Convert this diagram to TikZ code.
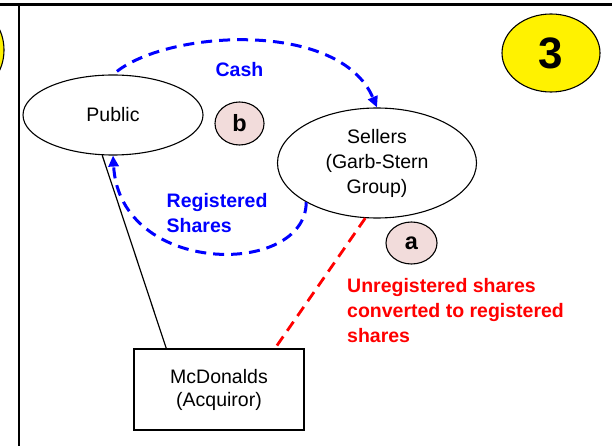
\documentclass[tikz,border=0pt]{standalone}
\usepackage{fontspec}
\setmainfont{Liberation Sans}
\usetikzlibrary{shapes.geometric,arrows.meta,calc}
\definecolor{pinkfill}{RGB}{242,220,219}
\begin{document}
\begin{tikzpicture}[x=1pt,y=-1pt,
  ell/.style={ellipse,draw,line width=1.1pt,inner sep=0pt},
  plaintext/.style={font=\fontsize{19.5}{25}\selectfont,align=center},
  boldtext/.style={font=\bfseries\fontsize{19.5}{25}\selectfont},
  lettertext/.style={font=\bfseries\fontsize{23.5}{25}\selectfont},
  bluedash/.style={draw=blue,line width=3pt,dash pattern=on 11pt off 7pt,-{Triangle[length=11pt,width=10pt]}},
  reddash/.style={draw=red,line width=2.8pt,dash pattern=on 11pt off 7pt},
  link/.style={line width=1.2pt}
]
\useasboundingbox (0,0) rectangle (612,446);
\clip (0,0) rectangle (612,446);
\fill[white] (0,0) rectangle (612,446);

% frame
\draw[line width=2.5pt] (0,4.5) -- (612,4.5);
\draw[line width=2pt] (19,4.5) -- (19,446);

% badges
\node[ell,fill=yellow,minimum width=60pt,minimum height=78pt] (prev) at (-26,50) {};
\node[ell,fill=yellow,minimum width=98pt,minimum height=78pt,font=\bfseries\fontsize{44}{44}\selectfont] (three) at (551,53) {3};

% main nodes
\node[ell,minimum width=180pt,minimum height=80pt,plaintext] (pub) at (113,115) {Public};
\node[ell,minimum width=199pt,minimum height=110pt,plaintext] (sel) at (377,163) {Sellers\\(Garb-Stern\\Group)};
\node[draw,line width=1.2pt,minimum width=170pt,minimum height=81pt,font=\fontsize{19.5}{23}\selectfont,align=center] (box) at (219,389.5) {McDonalds\\(Acquiror)};

\node[ell,fill=pinkfill,minimum width=49pt,minimum height=43pt,lettertext] (b) at (239.5,123.5) {b};
\node[ell,fill=pinkfill,minimum width=51pt,minimum height=42pt,lettertext] (a) at (411.5,243) {a};

% labels
\node[boldtext,text=blue,anchor=base] (cash) at (239.5,76.7) {Cash};
\node[boldtext,text=blue,anchor=base west,align=left,inner xsep=0pt] (reg) at (166.5,232.5) {Registered\\Shares};
\node[boldtext,text=red,anchor=base west,align=left,inner xsep=0pt] (conv) at (347,342) {Unregistered shares\\converted to registered\\shares};

% connectors
\coordinate (bl) at ($(box.north west)!0.192!(box.north east)$);
\coordinate (rc) at ($(box.north west)!0.827!(box.north east)$);
\draw[link] (pub.255) -- (bl);
\draw[reddash] (sel.258) -- (rc);
\draw[bluedash,shorten <=5pt] (pub.north) .. controls (170,30) and (340,20) .. (sel.north);
\draw[bluedash] (sel.209) .. controls (306,277) and (120,277) .. (pub.south);
\end{tikzpicture}
\end{document}
